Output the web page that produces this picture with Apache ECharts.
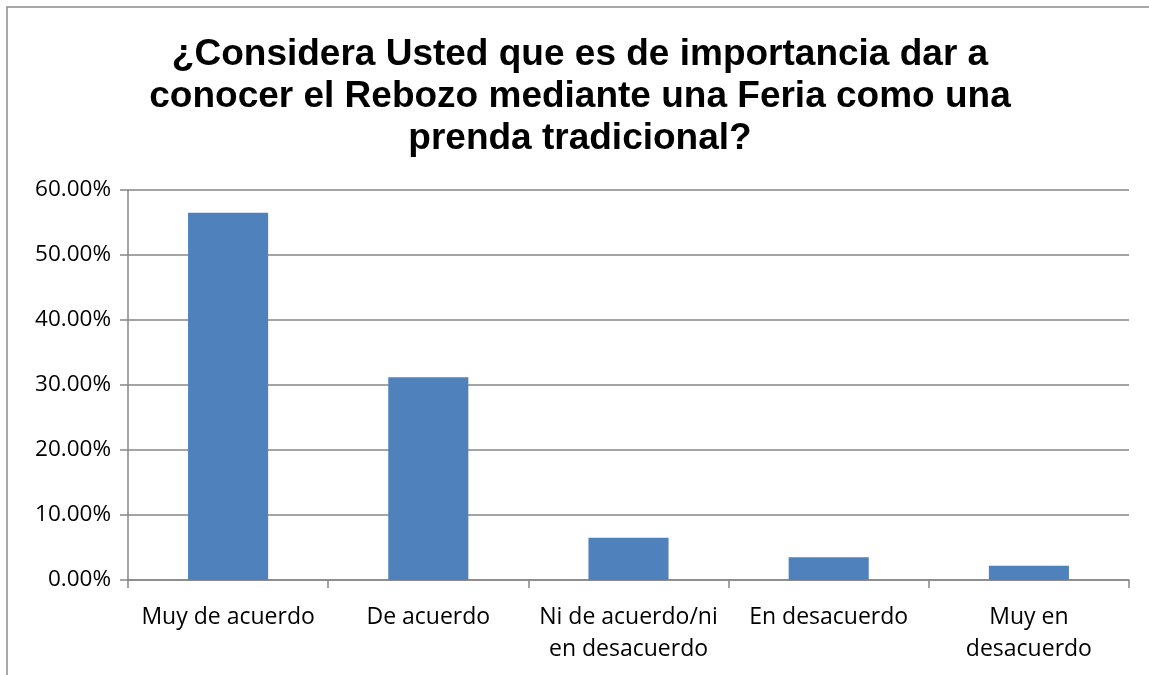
<!DOCTYPE html>
<html>
<head>
<meta charset="utf-8">
<script src="https://cdn.jsdelivr.net/npm/echarts@6/dist/echarts.min.js"></script>
<style>
html, body { margin: 0; padding: 0; background: #fff; }
#chart { width: 1149px; height: 675px; }
</style>
</head>
<body>
<div id="chart"></div>
<script>
// data
var titleText = '¿Considera Usted que es de importancia dar a\nconocer el Rebozo mediante una Feria como una\nprenda tradicional?';
var categories = ['Muy de acuerdo', 'De acuerdo', 'Ni de acuerdo/ni\nen desacuerdo', 'En desacuerdo', 'Muy en\ndesacuerdo'];
var percentages = [56.5, 31.2, 6.5, 3.5, 2.2];
var yTicks = [0, 10, 20, 30, 40, 50, 60];

var chart = echarts.init(document.getElementById('chart'));
var lineColor = '#868686';

chart.setOption({
    animation: false,
    graphic: [{
        type: 'rect',
        shape: { x: 7, y: 7, width: 1300, height: 800 },
        style: { fill: 'none', stroke: '#8c8c8c', lineWidth: 1.5 }
    }],
    title: {
        text: titleText,
        left: 575,
        top: 29,
        textAlign: 'center',
        textStyle: {
            fontFamily: 'Liberation Sans',
            fontWeight: 'bold',
            fontSize: 37,
            lineHeight: 42,
            color: '#000'
        }
    },
    grid: {
        left: 128,
        right: 20,
        top: 190,
        bottom: 95
    },
    xAxis: {
        type: 'category',
        data: categories,
        axisLine: { lineStyle: { color: lineColor, width: 1.5 } },
        axisTick: { show: true, length: 8, lineStyle: { color: lineColor, width: 1.5 } },
        axisLabel: {
            color: '#000',
            fontFamily: 'Open Sans',
            fontSize: 23,
            lineHeight: 32,
            margin: 21,
            interval: 0
        }
    },
    yAxis: {
        type: 'value',
        min: yTicks[0],
        max: yTicks[yTicks.length - 1],
        interval: 10,
        axisLine: { show: true, lineStyle: { color: lineColor, width: 1.5 } },
        axisTick: { show: true, length: 8, lineStyle: { color: lineColor, width: 1.5 } },
        splitLine: { lineStyle: { color: lineColor, width: 1.5 } },
        axisLabel: {
            color: '#000',
            fontFamily: 'Open Sans',
            fontSize: 22.5,
            margin: 17,
            formatter: function (v) { return v.toFixed(2) + '%'; }
        }
    },
    series: [{
        type: 'bar',
        data: percentages,
        barWidth: '40%',
        itemStyle: { color: '#4F81BD' }
    }]
});
</script>
</body>
</html>
